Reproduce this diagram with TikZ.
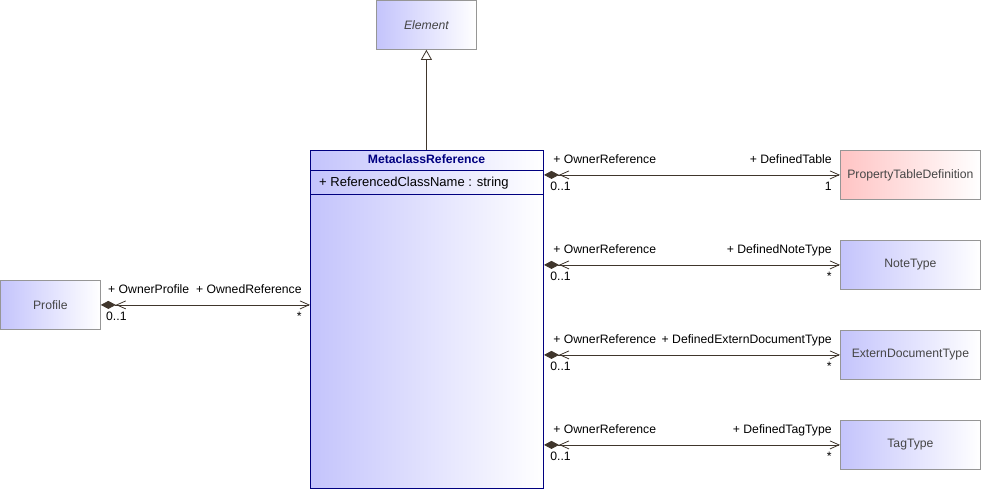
\documentclass[tikz,border=0pt]{standalone}
\usepackage{fontspec}
\setmainfont{Liberation Sans}
\usetikzlibrary{arrows.meta,positioning}

\definecolor{classblue}{RGB}{196,196,252}
\definecolor{classpink}{RGB}{255,196,196}
\definecolor{classedge}{RGB}{150,150,150}
\definecolor{linebrown}{RGB}{64,54,44}
\definecolor{titlenavy}{RGB}{0,0,128}
\definecolor{textgrey}{RGB}{70,70,70}

\tikzset{
  classbox/.style={draw=classedge, line width=0.8pt, left color=classblue, right color=white,
    minimum width=100pt, minimum height=49pt, inner sep=0pt, text=textgrey, anchor=north west},
  targetbox/.style={classbox, minimum width=140pt},
  metabox/.style={draw=titlenavy, line width=1pt, left color=classblue, right color=white,
    minimum width=233pt, minimum height=338pt, inner sep=0pt, anchor=north west},
  lbl/.style={inner sep=0pt, text height=8.5pt, text depth=2.5pt, text=black},
  assoc/.style={draw=linebrown, line width=0.8pt,
    {Diamond[fill=linebrown,length=15pt,width=8pt] Straight Barb[length=9pt,width=8pt]}-{Straight Barb[length=9pt,width=8pt]}},
  generalize/.style={draw=linebrown, line width=0.8pt, -{Triangle[open,fill=white,length=10pt,width=11pt]}}
}

\begin{document}
\begin{tikzpicture}[x=1pt,y=-1pt,font=\fontsize{12.2}{14}\selectfont]
\useasboundingbox (0,0) rectangle (981,490);

% classes
\node[classbox] (element) at (376,0) {\itshape Element};
\node[metabox] (meta) at (310,150) {};
\node[classbox] (profile) at (0,280) {Profile};
\node[targetbox, left color=classpink] (proptable) at (840,150) {PropertyTableDefinition};
\node[targetbox] (notetype) at (840,240) {NoteType};
\node[targetbox] (externdoc) at (840,330) {ExternDocumentType};
\node[targetbox] (tagtype) at (840,420) {TagType};

% compartments of MetaclassReference
\node[lbl, font=\fontsize{12.2}{14}\selectfont\bfseries, text=titlenavy] (metatitle) at (426.5,160) {MetaclassReference};
\coordinate (hdr) at (310,170.5);
\coordinate (attrend) at (310,194.5);
\draw[titlenavy, line width=0.8pt] (hdr) -- (hdr -| meta.east);
\draw[titlenavy, line width=0.8pt] (attrend) -- (attrend -| meta.east);
\node[lbl, anchor=west, font=\fontsize{13}{15}\selectfont] (attr) at (319,183.5) {+ ReferencedClassName : string};

% generalization
\draw[generalize] (meta.north -| element.south) -- (element.south);

% associations
\draw[assoc] (profile.east) -- (profile.east -| meta.west)
  node[lbl, at start, anchor=south west, xshift=7pt, yshift=8.5pt] {+ OwnerProfile}
  node[lbl, at start, anchor=north west, xshift=5pt, yshift=-6.5pt] {0..1}
  node[lbl, at end, anchor=south east, xshift=-8pt, yshift=8.5pt] {+ OwnedReference}
  node[lbl, at end, anchor=north east, xshift=-8pt, yshift=-6.5pt] {*};

\foreach \target/\role/\mult in {proptable/DefinedTable/1, notetype/DefinedNoteType/*,
    externdoc/DefinedExternDocumentType/*, tagtype/DefinedTagType/*}{
  \draw[assoc] (\target.west -| meta.east) -- (\target.west)
    node[lbl, at start, anchor=south west, xshift=9pt, yshift=8.5pt] {+ OwnerReference}
    node[lbl, at start, anchor=north west, xshift=6pt, yshift=-6.5pt] {0..1}
    node[lbl, at end, anchor=south east, xshift=-8pt, yshift=8.5pt] {+ \role}
    node[lbl, at end, anchor=north east, xshift=-8pt, yshift=-6.5pt] {\mult};
}
\end{tikzpicture}
\end{document}
